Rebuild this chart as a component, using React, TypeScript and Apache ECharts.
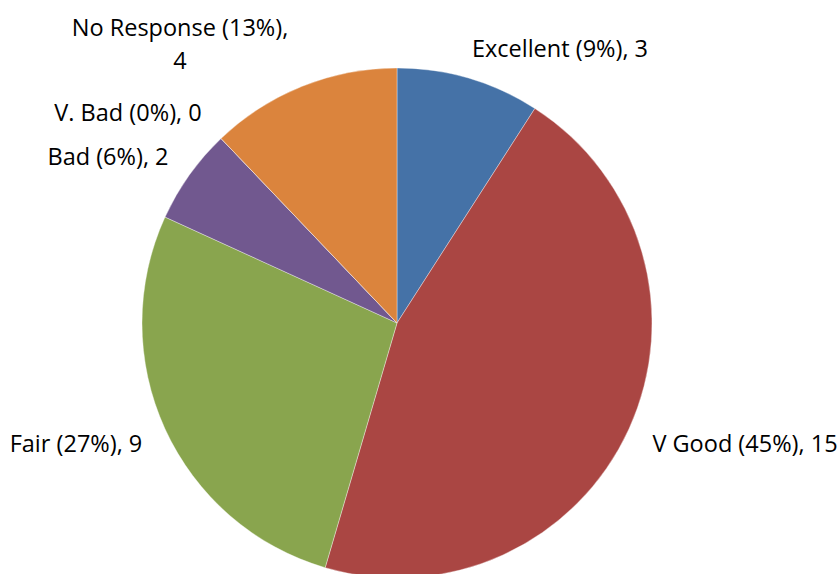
import React, { useEffect, useRef } from "react";
import * as echarts from "echarts";

const categories = ["Excellent", "V Good", "Fair", "Bad", "V. Bad", "No Response"];
const values = [3, 15, 9, 2, 0, 4];
const percentLabels = ["9%", "45%", "27%", "6%", "0%", "13%"];
const colors = ["#4572A7", "#AA4643", "#89A54E", "#71588F", "#7DA7D9", "#DB843D"];
// label centre positions (px)
const labelX = [560, 745, 76, 108, 128, 180];
const labelY = [48, 443, 443, 156, 112, 43];

export default function App() {
  const ref = useRef<HTMLDivElement>(null);
  useEffect(() => {
    document.body.style.margin = "0";
    const chart = echarts.init(ref.current!, null, { renderer: "svg" });
    chart.setOption({
      animation: false,
      backgroundColor: "#ffffff",
      series: [
        {
          type: "pie",
          center: [397, 323],
          radius: 255,
          startAngle: 90,
          clockwise: true,
          avoidLabelOverlap: false,
          data: categories.map((c, i) => ({
            name: c,
            value: values[i],
            itemStyle: { color: colors[i] },
          })),
          itemStyle: { borderColor: "rgba(255,255,255,0.6)", borderWidth: 0.6 },
          label: {
            show: true,
            position: "outside",
            fontFamily: "'Open Sans', Lato, sans-serif",
            fontSize: 23.5,
            color: "#000",
            lineHeight: 33,
            formatter: (p: any) => {
              const i = p.dataIndex;
              const t = `${categories[i]} (${percentLabels[i]}), ${values[i]}`;
              return i === 5 ? `${categories[i]} (${percentLabels[i]}),\n${values[i]}` : t;
            },
          },
          labelLine: { show: false },
          labelLayout: (params: any) => ({
            x: labelX[params.dataIndex],
            y: labelY[params.dataIndex],
            align: "center",
            verticalAlign: "middle",
          }),
        },
      ],
    });
    return () => chart.dispose();
  }, []);
  return <div ref={ref} style={{ width: 840, height: 574 }} />;
}
